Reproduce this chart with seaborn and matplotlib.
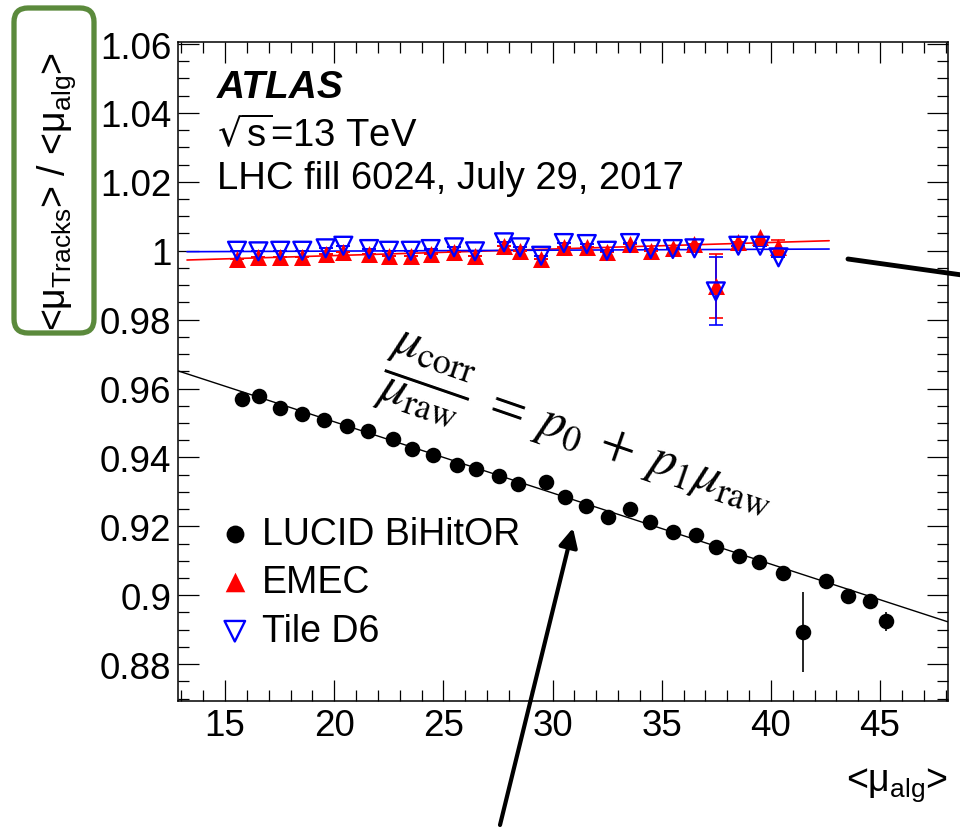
import numpy as np
import pandas as pd
import seaborn as sns
import matplotlib
matplotlib.use("Agg")
import matplotlib.pyplot as plt
from matplotlib.patches import FancyBboxPatch
from matplotlib.ticker import MultipleLocator, FuncFormatter
from matplotlib.transforms import IdentityTransform

# ---------------- data ----------------
lucid_mu = [15.79, 16.54, 17.52, 18.51, 19.54, 20.57, 21.56, 22.71, 23.58, 24.54,
            25.61, 26.48, 27.57, 28.44, 29.69, 30.57, 31.52, 32.56, 33.55, 34.47,
            35.54, 36.56, 37.48, 38.55, 39.46, 40.57, 41.49, 42.52, 43.55, 44.54, 45.27]
lucid_ratio = [0.9570, 0.9577, 0.9543, 0.9526, 0.9509, 0.9490, 0.9476, 0.9453, 0.9424, 0.9407,
               0.9379, 0.9366, 0.9347, 0.9323, 0.9328, 0.9286, 0.9260, 0.9226, 0.9250, 0.9212,
               0.9183, 0.9175, 0.9139, 0.9113, 0.9096, 0.9064, 0.8894, 0.9042, 0.8999, 0.8984, 0.8924]
lucid_err = [0.0005] * 26 + [0.0116, 0.0005, 0.0005, 0.0005, 0.0028]

cal_mu = [15.55, 16.53, 17.53, 18.54, 19.61, 20.42, 21.60, 22.51, 23.51, 24.42,
          25.49, 26.45, 27.78, 28.51, 29.48, 30.52, 31.57, 32.49, 33.55, 34.50,
          35.51, 36.50, 37.48, 38.51, 39.51, 40.35]
emec_ratio = [0.99759, 0.99808, 0.99826, 0.99808, 0.99904, 0.99953, 0.99904, 0.99855, 0.99855, 0.99904,
              0.99953, 0.99838, 1.00145, 1.00000, 0.99759, 1.00099, 1.00099, 0.99953, 1.00194, 1.00000,
              1.00070, 1.00194, 0.98980, 1.00244, 1.00389, 1.00099]
emec_err = [0.0] * 22 + [0.0093, 0.0, 0.0, 0.0020]
tile_ratio = [1.00000, 0.99983, 1.00000, 1.00000, 1.00070, 1.00145, 1.00049, 1.00000, 1.00000, 1.00049,
              1.00099, 0.99983, 1.00244, 1.00099, 0.99855, 1.00223, 1.00194, 1.00000, 1.00223, 1.00049,
              1.00049, 1.00070, 0.98820, 1.00145, 1.00145, 0.99808]
tile_err = [0.0] * 22 + [0.0099, 0.0, 0.0, 0.0]

lucid_fit = [0.99167, -0.002066]
emec_fit = [0.99478, 0.0001904]
tile_fit = [0.99936, 0.0000265]
x_limits = [12.86, 48.10]
y_limits = [0.8694, 1.0606]
cal_fit_range = [13.26, 42.67]

x_ticks = [15, 20, 25, 30, 35, 40, 45]
y_ticks = [0.88, 0.90, 0.92, 0.94, 0.96, 0.98, 1.00, 1.02, 1.04, 1.06]
legend_labels = ["LUCID BiHitOR", "EMEC", "Tile D6"]

# ---------------- style ----------------
sns.set_theme(style="ticks")
plt.rcParams["font.family"] = ["Liberation Sans", "DejaVu Sans"]
plt.rcParams["mathtext.fontset"] = "custom"
plt.rcParams["mathtext.rm"] = "Liberation Sans"
plt.rcParams["mathtext.it"] = "Liberation Sans:italic"
plt.rcParams["mathtext.bf"] = "Liberation Sans:bold"
for k in ["text.color", "axes.labelcolor", "xtick.color", "ytick.color", "axes.edgecolor"]:
    plt.rcParams[k] = "black"

fig = plt.figure(figsize=(9.6, 8.29), dpi=100)
ax = fig.add_axes([0.1857, 0.1536, 0.8015, 0.7946])

lucid_df = pd.DataFrame({"mu": lucid_mu, "ratio": lucid_ratio, "err": lucid_err})
emec_df = pd.DataFrame({"mu": cal_mu, "ratio": emec_ratio, "err": emec_err})
tile_df = pd.DataFrame({"mu": cal_mu, "ratio": tile_ratio, "err": tile_err})

# fit lines
xf = np.array(x_limits)
sns.lineplot(x=xf, y=lucid_fit[0] + lucid_fit[1] * xf, color="black", lw=1.0, ax=ax, zorder=2)
xc = np.array(cal_fit_range)
sns.lineplot(x=xc, y=emec_fit[0] + emec_fit[1] * xc, color="#ff0000", lw=1.2, ax=ax, zorder=2)
sns.lineplot(x=xc, y=tile_fit[0] + tile_fit[1] * xc, color="#0000ff", lw=1.2, ax=ax, zorder=2)

# error bars
ax.errorbar(lucid_df.mu, lucid_df.ratio, yerr=lucid_df.err, fmt="none", ecolor="black",
            elinewidth=1.2, capsize=0, zorder=3)
ax.errorbar(emec_df.mu, emec_df.ratio, yerr=emec_df.err, fmt="none", ecolor="#ff0000",
            elinewidth=1.2, capsize=5, capthick=1.2, zorder=3)
ax.errorbar(tile_df.mu, tile_df.ratio, yerr=tile_df.err, fmt="none", ecolor="#0000ff",
            elinewidth=1.2, capsize=5, capthick=1.2, zorder=3)

# markers
sns.scatterplot(data=lucid_df, x="mu", y="ratio", marker="o", s=125, color="black",
                edgecolor="black", linewidth=0, ax=ax, zorder=4, label=legend_labels[0])
sns.scatterplot(data=emec_df, x="mu", y="ratio", marker="^", s=150, color="#ff0000",
                edgecolor="#ff0000", linewidth=0, ax=ax, zorder=4, label=legend_labels[1])
sns.scatterplot(data=tile_df, x="mu", y="ratio", marker="v", s=165, facecolor="none",
                edgecolor="#0000ff", linewidth=1.7, ax=ax, zorder=5, label=legend_labels[2])

ax.set_xlim(*x_limits)
ax.set_ylim(*y_limits)
ax.set_xticks(x_ticks)
ax.set_yticks(y_ticks)
ax.xaxis.set_minor_locator(MultipleLocator(1))
ax.yaxis.set_minor_locator(MultipleLocator(0.005))
ax.yaxis.set_major_formatter(FuncFormatter(lambda v, p: f"{v:g}"))
ax.tick_params(which="both", direction="in", top=True, right=True, width=0.9, color="black")
ax.tick_params(which="major", length=15, labelsize=26.5, pad=5)
ax.tick_params(which="minor", length=8)
for sp in ax.spines.values():
    sp.set_linewidth(1.1)
    sp.set_color("black")

# axis labels
ax.set_ylabel(r"<$\mathregular{μ_{Tracks}}$> / <$\mathregular{μ_{alg}}$>", fontsize=27, va="center")
ax.yaxis.set_label_coords(-0.158, 0.775)
ax.set_xlabel(r"<$\mathregular{μ_{alg}}$>", fontsize=27, ha="right", va="top")
ax.xaxis.set_label_coords(1.0, -0.098)

# green box around y label
box = FancyBboxPatch((14, 829 - 334), 80, 325, boxstyle="round,pad=0,rounding_size=14",
                     transform=IdentityTransform(), fill=False, edgecolor="#5b8a3c", lw=3.8,
                     figure=fig)
fig.patches.append(box)

# texts
ax.text(0.05, 0.916, "ATLAS", transform=ax.transAxes, fontsize=28, fontweight="bold",
        fontstyle="italic", ha="left", va="baseline")
ax.text(0.05, 0.8426, r"$\sqrt{\mathregular{s}}$=13 TeV", transform=ax.transAxes, fontsize=27.5,
        ha="left", va="baseline", math_fontfamily="dejavusans")
ax.text(0.05, 0.778, "LHC fill 6024, July 29, 2017", transform=ax.transAxes, fontsize=27.5,
        ha="left", va="baseline")

ax.text(0.518, 0.405,
        r"$\dfrac{\mu_{\mathrm{corr}}}{\mu_{\mathrm{raw}}}\;=\;p_0\;+\;p_1\mu_{\mathrm{raw}}$",
        transform=ax.transAxes, fontsize=37, rotation=-19, rotation_mode="anchor",
        ha="center", va="center", math_fontfamily="stix")

# legend
h, l = ax.get_legend_handles_labels()
sel = [l.index(n) for n in legend_labels]
ax.legend([h[i] for i in sel], [l[i] for i in sel], loc="upper left",
          bbox_to_anchor=(0.054, 0.281), frameon=False, fontsize=27, handlelength=0.8,
          handletextpad=0.33, labelspacing=0.34, borderpad=0, borderaxespad=0,
          markerscale=1.15, scatterpoints=1)

# arrows
ax.annotate("", xy=(573, 829 - 529), xytext=(500, 829 - 826), xycoords="figure pixels",
            textcoords="figure pixels", annotation_clip=False,
            arrowprops=dict(arrowstyle="-|>", lw=3, color="black", mutation_scale=28,
                            shrinkA=0, shrinkB=0))
ax.annotate("", xy=(962, 829 - 276), xytext=(848, 829 - 260), xycoords="figure pixels",
            textcoords="figure pixels", annotation_clip=False,
            arrowprops=dict(arrowstyle="-", lw=3.5, color="black", shrinkA=0, shrinkB=0))

fig.savefig("out.png", dpi=100)
